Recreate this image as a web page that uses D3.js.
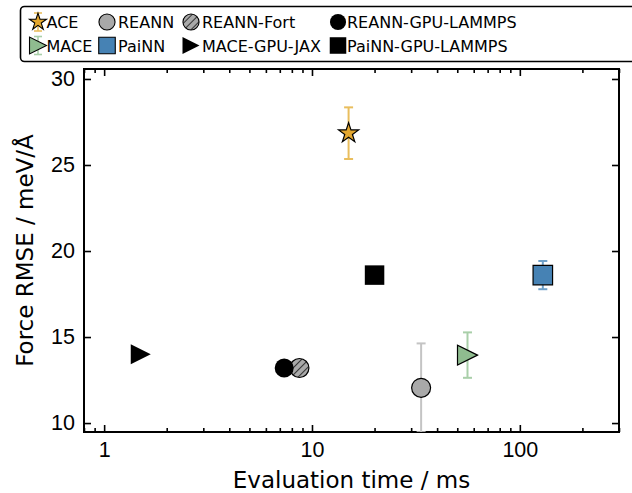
<!DOCTYPE html>
<html>
<head>
<meta charset="utf-8">
<script src="https://cdn.jsdelivr.net/npm/d3@7"></script>
<style>
  body { margin: 0; background: #fff; }
  svg { display: block; font-family: "DejaVu Sans", sans-serif; }
</style>
</head>
<body>
<div id="chart"></div>
<script>
// data
const models = ["ACE", "MACE", "REANN", "PaiNN", "REANN-Fort", "MACE-GPU-JAX", "REANN-GPU-LAMMPS", "PaiNN-GPU-LAMMPS"];
const evalTime = [15, 56, 33.5, 129, 8.7, 1.5, 7.35, 20];
const forceRmse = [26.85, 13.95, 12.05, 18.6, 13.2, 14.0, 13.2, 18.6];
const rmseErr = [1.5, 1.32, 2.58, 0.82, 0, 0, 0, 0];
const xTicks = [1, 10, 100];
const yTicks = [10, 15, 20, 25, 30];

const width = 632, height = 493;
const margin = { top: 69, right: 13, bottom: 61, left: 84 };

// custom marker: right pointing triangle like matplotlib ">"
const triRight = {
  draw(ctx, size) {
    const r = Math.sqrt(size) / 2;
    ctx.moveTo(r, 0);
    ctx.lineTo(-r, r);
    ctx.lineTo(-r, -r);
    ctx.closePath();
  }
};

const style = {
  "ACE": { type: d3.symbolStar, size: 125, fill: "#e3a72f", stroke: "#000", err: "#e9be5e" },
  "MACE": { type: triRight, size: 400, fill: "#8fbc8f", stroke: "#000", err: "#a9cfa9" },
  "REANN": { type: d3.symbolCircle, size: 283, fill: "#a9a9a9", stroke: "#000", err: "#c4c4c4" },
  "PaiNN": { type: d3.symbolSquare, size: 380, fill: "#4682b4", stroke: "#000", err: "#6fa0c8" },
  "REANN-Fort": { type: d3.symbolCircle, size: 283, fill: "url(#hatch)", stroke: "#000", err: "#000" },
  "MACE-GPU-JAX": { type: triRight, size: 400, fill: "#000", stroke: "none", err: "#000" },
  "REANN-GPU-LAMMPS": { type: d3.symbolCircle, size: 283, fill: "#000", stroke: "none", err: "#000" },
  "PaiNN-GPU-LAMMPS": { type: d3.symbolSquare, size: 380, fill: "#000", stroke: "none", err: "#000" }
};

const points = models.map((m, i) => ({ model: m, x: evalTime[i], y: forceRmse[i], e: rmseErr[i] }));

const svg = d3.select("#chart")
  .append("svg")
  .attr("width", width)
  .attr("height", height);

// hatch pattern for REANN-Fort
svg.append("defs")
  .append("pattern")
  .attr("id", "hatch")
  .attr("patternUnits", "userSpaceOnUse")
  .attr("width", 5)
  .attr("height", 5)
  .attr("patternTransform", "rotate(45)")
  .call(p => {
    p.append("rect").attr("width", 5).attr("height", 5).attr("fill", "#a9a9a9");
    p.append("line").attr("x1", 0).attr("y1", 0).attr("x2", 0).attr("y2", 5)
      .attr("stroke", "#000").attr("stroke-width", 1.4);
  });

svg.select("defs").append("clipPath")
  .attr("id", "plotClip")
  .append("rect")
  .attr("x", margin.left)
  .attr("y", margin.top)
  .attr("width", width - margin.left - margin.right)
  .attr("height", height - margin.top - margin.bottom);

const x = d3.scaleLog()
  .domain([0.8, 300])
  .range([margin.left, width - margin.right]);

const y = d3.scaleLinear()
  .domain([9.48, 30.58])
  .range([height - margin.bottom, margin.top]);

// minor ticks on the log axis
const minorTicks = [];
[0.1, 1, 10, 100].forEach(dec => {
  for (let k = 2; k <= 9; k++) {
    const v = dec * k;
    if (v >= 0.8 && v <= 300 && !xTicks.includes(v)) minorTicks.push(v);
  }
});

const fmt = d3.format("d");

function styleAxis(g) {
  g.select(".domain").remove();
  g.selectAll(".tick line").attr("stroke", "#000").attr("stroke-width", 1.6);
  g.selectAll(".tick text").attr("fill", "#000").style("font-size", "21.5px");
}

// bottom
svg.append("g")
  .attr("transform", `translate(0,${height - margin.bottom})`)
  .call(d3.axisBottom(x).tickValues(xTicks).tickFormat(fmt).tickSizeInner(-7).tickSizeOuter(0).tickPadding(10))
  .call(styleAxis);
svg.append("g")
  .attr("transform", `translate(0,${height - margin.bottom})`)
  .call(d3.axisBottom(x).tickValues(minorTicks).tickFormat("").tickSizeInner(-4).tickSizeOuter(0))
  .call(styleAxis);

// top
svg.append("g")
  .attr("transform", `translate(0,${margin.top})`)
  .call(d3.axisTop(x).tickValues(xTicks).tickFormat("").tickSizeInner(-7).tickSizeOuter(0))
  .call(styleAxis);
svg.append("g")
  .attr("transform", `translate(0,${margin.top})`)
  .call(d3.axisTop(x).tickValues(minorTicks).tickFormat("").tickSizeInner(-4).tickSizeOuter(0))
  .call(styleAxis);

// left
svg.append("g")
  .attr("transform", `translate(${margin.left},0)`)
  .call(d3.axisLeft(y).tickValues(yTicks).tickFormat(fmt).tickSizeInner(-7).tickSizeOuter(0).tickPadding(9))
  .call(styleAxis);

// right
svg.append("g")
  .attr("transform", `translate(${width - margin.right},0)`)
  .call(d3.axisRight(y).tickValues(yTicks).tickFormat("").tickSizeInner(-7).tickSizeOuter(0))
  .call(styleAxis);

// frame
svg.append("rect")
  .attr("x", margin.left)
  .attr("y", margin.top)
  .attr("width", width - margin.left - margin.right)
  .attr("height", height - margin.top - margin.bottom)
  .attr("fill", "none")
  .attr("stroke", "#000")
  .attr("stroke-width", 2);

// axis titles
svg.append("text")
  .attr("x", (margin.left + width - margin.right) / 2)
  .attr("y", 487.5)
  .attr("text-anchor", "middle")
  .style("font-size", "23px")
  .text("Evaluation time / ms");

svg.append("text")
  .attr("transform", `translate(33,${(margin.top + height - margin.bottom) / 2}) rotate(-90)`)
  .attr("text-anchor", "middle")
  .style("font-size", "23px")
  .text("Force RMSE / meV/Å");

const plot = svg.append("g").attr("clip-path", "url(#plotClip)");

// error bars
const withErr = points.filter(d => d.e > 0);
const errG = plot.selectAll(".err")
  .data(withErr)
  .join("g")
  .attr("class", "err")
  .attr("stroke", d => style[d.model].err)
  .attr("stroke-width", 2);
errG.append("line")
  .attr("x1", d => x(d.x)).attr("x2", d => x(d.x))
  .attr("y1", d => y(d.y - d.e)).attr("y2", d => y(d.y + d.e));
errG.append("line")
  .attr("x1", d => x(d.x) - 4.5).attr("x2", d => x(d.x) + 4.5)
  .attr("y1", d => y(d.y + d.e)).attr("y2", d => y(d.y + d.e));
errG.append("line")
  .attr("x1", d => x(d.x) - 4.5).attr("x2", d => x(d.x) + 4.5)
  .attr("y1", d => y(d.y - d.e)).attr("y2", d => y(d.y - d.e));

// markers
plot.selectAll(".mark")
  .data(points)
  .join("path")
  .attr("class", "mark")
  .attr("transform", d => `translate(${x(d.x)},${y(d.y)})`)
  .attr("d", d => d3.symbol(style[d.model].type, style[d.model].size)())
  .attr("fill", d => style[d.model].fill)
  .attr("stroke", d => style[d.model].stroke)
  .attr("stroke-width", 1.2);

// legend
const legend = svg.append("g");
legend.append("rect")
  .attr("x", 20.5)
  .attr("y", 6.5)
  .attr("width", 640)
  .attr("height", 55)
  .attr("rx", 4)
  .attr("fill", "#fff")
  .attr("stroke", "#000")
  .attr("stroke-width", 1.6);

const colHandle = [38, 107, 191, 338];
const colText = [46.5, 118, 202, 347];
const rowY = [22, 45.5];

const legItems = legend.selectAll(".leg")
  .data(points)
  .join("g")
  .attr("class", "leg")
  .attr("transform", (d, i) => `translate(${colHandle[Math.floor(i / 2)]},${rowY[i % 2]})`);

legItems.filter(d => d.e > 0 && (d.model === "ACE" || d.model === "MACE"))
  .append("g")
  .attr("stroke", d => style[d.model].err)
  .attr("stroke-width", 1.6)
  .call(g => {
    g.append("line").attr("x1", 0).attr("x2", 0).attr("y1", -9).attr("y2", 9);
    g.append("line").attr("x1", -4).attr("x2", 4).attr("y1", -9).attr("y2", -9);
    g.append("line").attr("x1", -4).attr("x2", 4).attr("y1", 9).attr("y2", 9);
  });

legItems.append("path")
  .attr("d", d => d3.symbol(style[d.model].type, style[d.model].size * 0.72)())
  .attr("fill", d => style[d.model].fill)
  .attr("stroke", d => style[d.model].stroke)
  .attr("stroke-width", 1.1);

legItems.append("text")
  .attr("x", (d, i) => colText[Math.floor(i / 2)] - colHandle[Math.floor(i / 2)])
  .attr("y", 6.2)
  .style("font-size", "16px")
  .text(d => d.model);
</script>
</body>
</html>
